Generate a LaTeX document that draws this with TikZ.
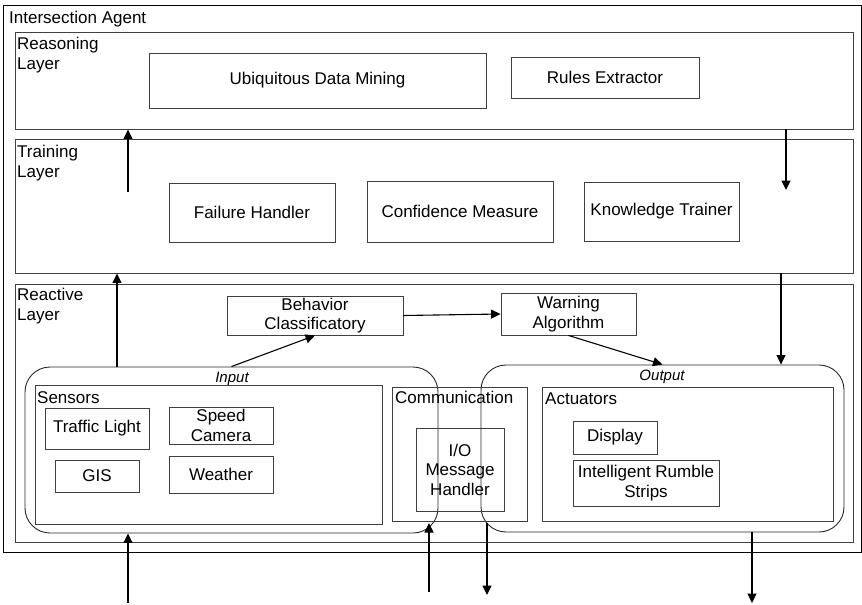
\documentclass[tikz,border=0pt]{standalone}
\usepackage{fontspec}
\setmainfont{Liberation Sans}
\usetikzlibrary{arrows.meta}
\newcommand\fs{\fontsize{17}{19.5}\selectfont}
\newcommand\fsi{\fontsize{15}{18}\selectfont\itshape}
\begin{document}
\begin{tikzpicture}[x=1pt,y=-1pt,
  frame/.style={draw=black, line width=0.9pt, inner sep=0pt},
  layerbox/.style={draw=black!75, line width=0.9pt, inner sep=0pt},
  box/.style={draw=black!75, line width=0.9pt, inner sep=0pt, align=center, font=\fs},
  group/.style={draw=black!85, line width=0.9pt, inner sep=0pt, rounded corners=25pt},
  lbl/.style={anchor=north west, inner sep=0pt, align=left, font=\fs},
  glbl/.style={anchor=base, inner sep=0pt, font=\fsi},
  arr/.style={draw=black, line width=1.1pt, -{Triangle[length=9.5pt,width=9pt]}}]
\useasboundingbox (0,0) rectangle (862,605);
% frames
\node[frame, minimum width=858pt, minimum height=547pt] (agent) at (432,278.5) {};
\node[layerbox, minimum width=838pt, minimum height=97pt] (reason) at (434,80.5) {};
\node[layerbox, minimum width=838pt, minimum height=134pt] (train) at (434,206) {};
\node[layerbox, minimum width=838pt, minimum height=258pt] (react) at (434,413) {};
% labels
\node[lbl] (lagent) at (9,11) {Intersection Agent};
\node[lbl] (lreason) at (17,37) {Reasoning\\Layer};
\node[lbl] (ltrain) at (17,145) {Training\\Layer};
\node[lbl] (lreact) at (17,288) {Reactive\\Layer};
% reasoning layer
\node[box, minimum width=337pt, minimum height=55pt] (udm) at (317.5,80.5) {Ubiquitous Data Mining};
\node[box, minimum width=188pt, minimum height=41pt] (rules) at (605,77.5) {Rules Extractor};
% training layer
\node[box, minimum width=166pt, minimum height=59pt] (fail) at (252,212.5) {Failure Handler};
\node[box, minimum width=186pt, minimum height=61pt] (conf) at (460,211.5) {Confidence Measure};
\node[box, minimum width=155pt, minimum height=59pt] (know) at (661.5,211.5) {Knowledge Trainer};
% reactive layer
\node[box, minimum width=176pt, minimum height=39pt] (beh) at (315,315.5) {Behavior\\Classificatory};
\node[box, minimum width=135pt, minimum height=42pt] (warn) at (568.5,314) {Warning\\Algorithm};
\node[group, minimum width=413pt, minimum height=166pt] (input) at (231.5,450) {};
\node[group, minimum width=363pt, minimum height=167pt] (output) at (662.5,448.5) {};
\node[glbl] (linput) at (232,382) {Input};
\node[glbl] (loutput) at (662,380) {Output};
\node[box, minimum width=347pt, minimum height=139pt] (sens) at (208.5,454.5) {};
\node[lbl] (lsens) at (37,391) {Sensors};
\node[box, minimum width=104pt, minimum height=41pt] (traffic) at (97,428.5) {Traffic Light};
\node[box, minimum width=104pt, minimum height=37pt] (speed) at (221,425.5) {Speed\\Camera};
\node[box, minimum width=84pt, minimum height=32pt] (gis) at (97,476) {GIS};
\node[box, minimum width=104pt, minimum height=37pt] (weather) at (221,474.5) {Weather};
\node[box, minimum width=135pt, minimum height=134pt] (comm) at (459.5,454) {};
\node[lbl] (lcomm) at (395,391) {Communication};
\node[box, minimum width=88pt, minimum height=83pt] (io) at (460,469.5) {I/O\\Message\\Handler};
\node[box, minimum width=291pt, minimum height=134pt] (act) at (687.5,454) {};
\node[lbl] (lact) at (545,393) {Actuators};
\node[box, minimum width=84pt, minimum height=33pt] (disp) at (615,437.5) {Display};
\node[box, minimum width=146pt, minimum height=46pt] (irs) at (646,483) {Intelligent Rumble\\Strips};
% coordinates
\coordinate (x117) at (117,0);
\coordinate (x128) at (128,0);
\coordinate (x786) at (786,0);
\coordinate (x781) at (781,0);
\coordinate (x752) at (752,0);
\coordinate (t1) at (128,192);
\coordinate (t2) at (786,190);
\coordinate (b1) at (128,603);
\coordinate (b2s) at (429,592);
\coordinate (b2e) at (429,523);
\coordinate (b3s) at (487,523);
\coordinate (b3e) at (487,595);
\coordinate (b4) at (752,603);
% arrows
\draw[arr] (x117 |- input.north) -- (x117 |- train.south);
\draw[arr] (t1) -- (x128 |- reason.south);
\draw[arr] (x786 |- reason.south) -- (t2);
\draw[arr] (x781 |- train.south) -- (x781 |- output.north);
\draw[arr] (input.north) -- (beh.south);
\draw[arr] (beh.east) -- (warn.west);
\draw[arr] (warn.south) -- (output.north);
\draw[arr] (b1) -- (x128 |- input.south);
\draw[arr] (b2s) -- (b2e);
\draw[arr] (b3s) -- (b3e);
\draw[arr] (x752 |- output.south) -- (b4);
\end{tikzpicture}
\end{document}
